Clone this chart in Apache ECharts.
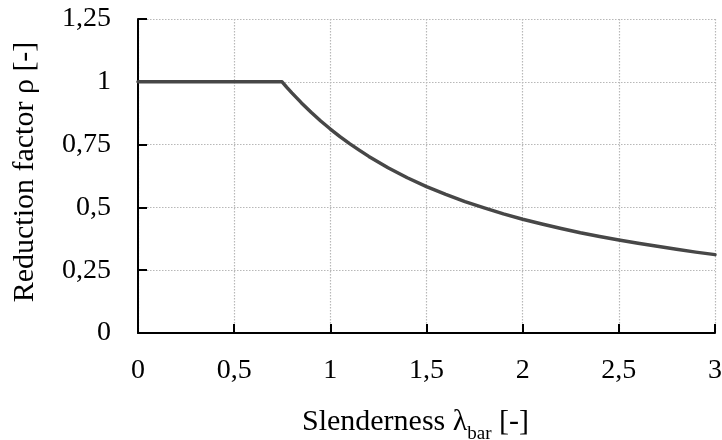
<!DOCTYPE html>
<html><head><meta charset="utf-8">
<script src="https://cdn.jsdelivr.net/npm/echarts@6/dist/echarts.min.js"></script>
<style>html,body{margin:0;padding:0;background:#fff}#c{width:722px;height:440px}</style>
</head><body><div id="c"></div>
<script>
var lambdaVals = [0, 0.25, 0.5, 0.7, 0.749, 0.775, 0.8, 0.825, 0.85, 0.9, 0.95, 1.0, 1.05, 1.1, 1.15, 1.2, 1.3, 1.4, 1.5, 1.6, 1.7, 1.8, 1.9, 2.0, 2.1, 2.2, 2.3, 2.4, 2.5, 2.6, 2.7, 2.8, 2.9, 3.0];
var rhoVals = [1, 1, 1, 1, 1, 0.977, 0.956, 0.936, 0.916, 0.879, 0.844, 0.812, 0.782, 0.754, 0.728, 0.703, 0.658, 0.618, 0.583, 0.552, 0.523, 0.498, 0.474, 0.453, 0.434, 0.416, 0.399, 0.384, 0.370, 0.357, 0.345, 0.333, 0.322, 0.312];
var xTicks = ['0', '0,5', '1', '1,5', '2', '2,5', '3'];
var yTicks = ['0', '0,25', '0,5', '0,75', '1', '1,25'];

var data = lambdaVals.map(function (l, i) { return [l, rhoVals[i]]; });
var font = 'Liberation Serif';
var chart = echarts.init(document.getElementById('c'), null, {renderer: 'canvas'});
chart.setOption({
  animation: false,
  backgroundColor: '#fff',
  grid: {left: 138, right: 7, top: 19, bottom: 107, containLabel: false, outerBoundsMode: 'none'},
  xAxis: {
    type: 'value', min: 0, max: 3, interval: 0.5,
    name: '{a|Slenderness λ}{s|bar}{a| [-]}',
    nameLocation: 'middle', nameGap: 74,
    nameTextStyle: {padding: [0, 22, 0, 0], rich: {
      a: {fontFamily: font, fontSize: 30, color: '#000'},
      s: {fontFamily: font, fontSize: 19, color: '#000', verticalAlign: 'bottom', padding: [0, 0, -7, 0]}
    }},
    axisLine: {show: true, lineStyle: {color: '#000', width: 2}},
    axisTick: {show: true, inside: true, length: 9, lineStyle: {color: '#000', width: 2}},
    axisLabel: {fontFamily: font, fontSize: 28, color: '#000', margin: 24,
      formatter: function (v) { return xTicks[Math.round(v / 0.5)]; }},
    splitLine: {show: true, lineStyle: {color: '#b8b8b8', type: [1.5, 1.5], width: 1.2}}
  },
  yAxis: {
    type: 'value', min: 0, max: 1.25, interval: 0.25,
    name: 'Reduction factor ρ [-]',
    nameLocation: 'middle', nameGap: 98,
    nameTextStyle: {fontFamily: font, fontSize: 30, color: '#000', padding: [0, 0, 0, 8]},
    axisLine: {show: true, lineStyle: {color: '#000', width: 2}},
    axisTick: {show: true, inside: true, length: 9, lineStyle: {color: '#000', width: 2}},
    axisLabel: {fontFamily: font, fontSize: 28, color: '#000', margin: 27,
      formatter: function (v) { return yTicks[Math.round(v / 0.25)]; }},
    splitLine: {show: true, lineStyle: {color: '#b8b8b8', type: [1.5, 1.5], width: 1.2}}
  },
  series: [{
    type: 'line', data: data, symbol: 'none', smooth: false,
    lineStyle: {color: '#474747', width: 3.5, join: 'round', cap: 'round'}, z: 5
  }]
});
</script></body></html>
